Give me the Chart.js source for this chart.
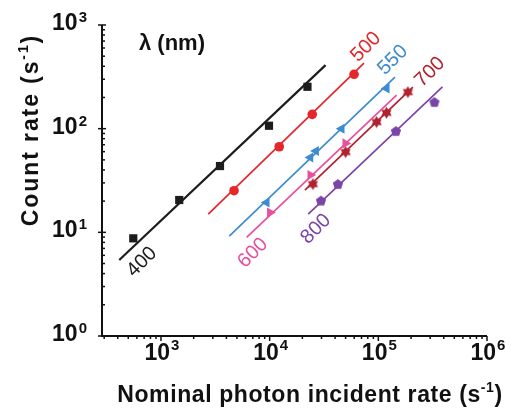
<!DOCTYPE html>
<html><head><meta charset="utf-8">
<script src="https://cdn.jsdelivr.net/npm/chart.js@4.4.0/dist/chart.umd.min.js"></script>
<style>html,body{margin:0;padding:0;background:#fff;}canvas{display:block;}</style>
</head><body>
<canvas id="c" width="511" height="410"></canvas>
<script>
// ---- data ----
const x400 = [556, 1472, 3491, 9860, 22280];
const y400 = [8.75, 20.5, 43.6, 106.7, 253.6];
const fitX400 = [413, 32700];
const fitY400 = [5.41, 410];

const x500 = [4700, 12250, 24660, 59800];
const y500 = [25.2, 66.9, 137.4, 334.7];
const fitX500 = [2723, 73800];
const fitY500 = [15.0, 429];

const x550 = [9370, 23700, 26670, 45900, 119100];
const y550 = [19.4, 52.6, 60.8, 99.6, 244.7];
const fitX550 = [4250, 142200];
const fitY550 = [9.21, 314.6];

const x600 = [10070, 23700, 49770];
const y600 = [15.5, 35.7, 72.1];
const fitX600 = [6140, 147200];
const fitY600 = [8.95, 211];

const x700 = [25000, 50000, 96400, 118800, 187100];
const y700 = [29.2, 59.5, 115.8, 142.3, 225.4];
const fitX700 = [21130, 208000];
const fitY700 = [25.6, 252];

const x800 = [29650, 42460, 145200, 328000];
const y800 = [20.2, 29.2, 94.8, 180.5];
const fitX800 = [22640, 389000];
const fitY800 = [15.0, 253.6];

const xMajorTicks = [1e3, 1e4, 1e5, 1e6];
const xTickExp = ['3', '4', '5', '6'];
const yMajorTicks = [1, 10, 100, 1000];
const yTickExp = ['0', '1', '2', '3'];

const seriesNames = ['400', '500', '550', '600', '700', '800'];
// label anchors in data units
const labelX = [669, 76900, 136100, 7015, 298600, 26680];
const labelY = [5.17, 612, 459, 6.32, 351.6, 10.76];

// ---- styles ----
const colors = {
  '400': '#1c1c1c', '500': '#e5262a', '550': '#3d8bd0',
  '600': '#e8509c', '700': '#b0222e', '800': '#7b45a8'
};

function shapeCanvas(color, size, drawFn) {
  const c = document.createElement('canvas');
  c.width = size; c.height = size;
  const g = c.getContext('2d');
  g.fillStyle = color;
  g.beginPath();
  drawFn(g, size / 2, size / 2);
  g.closePath();
  g.fill();
  return c;
}
const hexStar = shapeCanvas(colors['700'], 13, (g, cx, cy) => {
  const R = 6, r = 3.6;
  for (let i = 0; i < 12; i++) {
    const a = -Math.PI / 2 + i * Math.PI / 6;
    const rr = i % 2 === 0 ? R : r;
    const px = cx + rr * Math.cos(a), py = cy + rr * Math.sin(a);
    if (i === 0) g.moveTo(px, py); else g.lineTo(px, py);
  }
});
const pentagon = shapeCanvas(colors['800'], 12, (g, cx, cy) => {
  const R = 5.4;
  for (let i = 0; i < 5; i++) {
    const a = -Math.PI / 2 + i * 2 * Math.PI / 5;
    const px = cx + R * Math.cos(a), py = cy + R * Math.sin(a) + 0.5;
    if (i === 0) g.moveTo(px, py); else g.lineTo(px, py);
  }
});

function pts(xs, ys) { return xs.map((v, i) => ({ x: v, y: ys[i] })); }

function fitSet(xs, ys, color, w) {
  return { type: 'line', data: pts(xs, ys), borderColor: color, borderWidth: w,
    pointRadius: 0, showLine: true, fill: false, order: 2 };
}
function markSet(xs, ys, color, style, radius, rot) {
  return { type: 'scatter', data: pts(xs, ys), backgroundColor: color, borderColor: color,
    borderWidth: 0, pointStyle: style, pointRadius: radius, pointRotation: rot || 0,
    pointHoverRadius: radius, showLine: false, order: 1 };
}

const datasets = [
  fitSet(fitX400, fitY400, colors['400'], 2.2),
  fitSet(fitX500, fitY500, colors['500'], 1.7),
  fitSet(fitX550, fitY550, colors['550'], 1.7),
  fitSet(fitX600, fitY600, colors['600'], 1.7),
  fitSet(fitX700, fitY700, colors['700'], 1.7),
  fitSet(fitX800, fitY800, colors['800'], 1.7),
  markSet(x400, y400, colors['400'], 'rect', 5.8),
  markSet(x500, y500, colors['500'], 'circle', 4.8),
  markSet(x550, y550, colors['550'], 'triangle', 5.8, -90),
  markSet(x600, y600, colors['600'], 'triangle', 5.8, 90),
  markSet(x700, y700, colors['700'], hexStar, 6),
  markSet(x800, y800, colors['800'], pentagon, 6),
];

function drawPow(ctx, exp, x, y, align, baseFont, expFont, rise) {
  ctx.font = baseFont;
  const wb = ctx.measureText('10').width;
  ctx.font = expFont;
  const we = ctx.measureText(exp).width;
  const total = wb + we + 1;
  let sx = align === 'center' ? x - total / 2 : x - total;
  ctx.textAlign = 'left';
  ctx.textBaseline = 'alphabetic';
  ctx.font = baseFont;
  ctx.fillText('10', sx, y);
  ctx.font = expFont;
  ctx.fillText(exp, sx + wb + 1, y - rise);
}

const axesPlugin = {
  id: 'customAxes',
  beforeDatasetsDraw(chart) {
    const { ctx, chartArea: a, scales: { x, y } } = chart;
    ctx.save();
    ctx.strokeStyle = '#111';
    ctx.lineWidth = 2;
    ctx.beginPath();
    ctx.moveTo(a.left, a.top);
    ctx.lineTo(a.left, a.bottom);
    ctx.lineTo(a.right, a.bottom);
    ctx.stroke();
    ctx.lineWidth = 1.5;
    // x ticks
    const xmin = x.min, xmax = x.max;
    for (let d = 100; d <= 1e6; d *= 10) {
      for (let k = 1; k <= 9; k++) {
        const v = d * k;
        if (v < xmin * 0.999 || v > xmax * 1.001) continue;
        const px = x.getPixelForValue(v);
        const len = k === 1 ? 5 : 3;
        ctx.beginPath(); ctx.moveTo(px, a.bottom); ctx.lineTo(px, a.bottom + len); ctx.stroke();
      }
    }
    // y ticks
    for (let d = 1; d <= 1000; d *= 10) {
      for (let k = 1; k <= 9; k++) {
        const v = d * k;
        if (v > 1000.1) continue;
        const py = y.getPixelForValue(v);
        ctx.beginPath();
        if (k === 1) { ctx.moveTo(a.left - 4, py); ctx.lineTo(a.left + 4, py); }
        else { ctx.moveTo(a.left, py); ctx.lineTo(a.left + 3, py); }
        ctx.stroke();
      }
    }
    ctx.restore();
  },
  afterDraw(chart) {
    const { ctx, chartArea: a, scales: { x, y } } = chart;
    ctx.save();
    ctx.fillStyle = '#111';
    const bf = 'bold 23px "Liberation Sans", Arial, sans-serif';
    const ef = 'bold 15px "Liberation Sans", Arial, sans-serif';
    xMajorTicks.forEach((v, i) => {
      drawPow(ctx, xTickExp[i], x.getPixelForValue(v) + 1, a.bottom + 24, 'center', bf, ef, 10);
    });
    yMajorTicks.forEach((v, i) => {
      drawPow(ctx, yTickExp[i], a.left - 15, y.getPixelForValue(v) + 5, 'right', bf, ef, 8);
    });
    // axis titles
    const tf = 'bold 23px "Liberation Sans", Arial, sans-serif';
    const sf = 'bold 14px "Liberation Sans", Arial, sans-serif';
    function titleParts(t1, sup, t2) {
      ctx.font = tf; const w1 = ctx.measureText(t1).width; const w3 = ctx.measureText(t2).width;
      ctx.font = sf; const w2 = ctx.measureText(sup).width;
      return { w1, w2, w3, total: w1 + w2 + w3 };
    }
    function drawTitle(t1, sup, t2, cx, baseY) {
      const m = titleParts(t1, sup, t2);
      let sx = cx - m.total / 2;
      ctx.textAlign = 'left'; ctx.textBaseline = 'alphabetic';
      ctx.font = tf; ctx.fillText(t1, sx, baseY);
      ctx.font = sf; ctx.fillText(sup, sx + m.w1, baseY - 10);
      ctx.font = tf; ctx.fillText(t2, sx + m.w1 + m.w2, baseY);
    }
    ctx.letterSpacing = '0.6px';
    drawTitle('Nominal photon incident rate (s', '-1', ')', 310, 402);
    ctx.save();
    ctx.translate(38, 130);
    ctx.rotate(-Math.PI / 2);
    ctx.letterSpacing = '1.9px';
    drawTitle('Count rate (s', '-1', ')', 0, 0);
    ctx.restore();
    ctx.letterSpacing = '0px';
    // lambda header
    ctx.font = 'bold 22px "Liberation Sans", Arial, sans-serif';
    ctx.textAlign = 'center'; ctx.textBaseline = 'middle';
    ctx.fillText('\u03bb (nm)', x.getPixelForValue(1262), y.getPixelForValue(654));
    // series labels
    ctx.font = '20px "Liberation Sans", Arial, sans-serif';
    seriesNames.forEach((n, i) => {
      ctx.save();
      ctx.translate(x.getPixelForValue(labelX[i]), y.getPixelForValue(labelY[i]));
      ctx.rotate(-Math.PI / 4);
      ctx.fillStyle = colors[n];
      ctx.textAlign = 'center'; ctx.textBaseline = 'middle';
      ctx.fillText(n, 0, 0);
      ctx.restore();
    });
    ctx.restore();
  }
};

new Chart(document.getElementById('c'), {
  type: 'scatter',
  data: { datasets },
  options: {
    responsive: false,
    animation: false,
    events: [],
    layout: { padding: { left: 102, right: 24, top: 25, bottom: 74 } },
    plugins: { legend: { display: false }, tooltip: { enabled: false } },
    scales: {
      x: { type: 'logarithmic', display: false, min: 286.6, max: 1e6 },
      y: { type: 'logarithmic', display: false, min: 1, max: 1000 }
    }
  },
  plugins: [axesPlugin]
});
</script>
</body></html>
